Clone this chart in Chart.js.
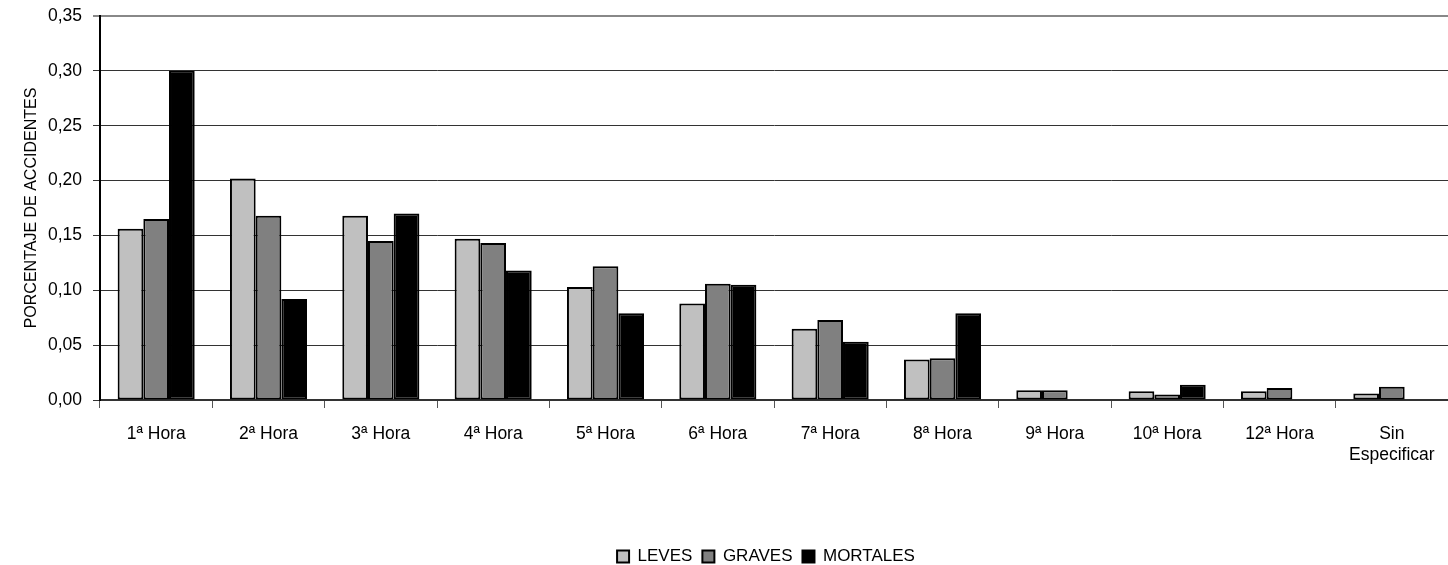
<!DOCTYPE html>
<html>
<head>
<meta charset="utf-8">
<script src="https://cdn.jsdelivr.net/npm/chart.js@4"></script>
<style>
html,body{margin:0;padding:0;background:#fff;}
#wrap{width:1448px;height:565px;position:relative;}
</style>
</head>
<body>
<div id="wrap"><canvas id="c" width="1448" height="565"></canvas></div>
<script>
const categories = ["1ª Hora","2ª Hora","3ª Hora","4ª Hora","5ª Hora","6ª Hora","7ª Hora","8ª Hora","9ª Hora","10ª Hora","12ª Hora",["Sin","Especificar"]];
const leves    = [0.156,0.202,0.168,0.147,0.103,0.088,0.065,0.037,0.009,0.008,0.008,0.006];
const graves   = [0.165,0.168,0.145,0.143,0.122,0.106,0.073,0.038,0.009,0.005,0.011,0.012];
const mortales = [0.300,0.092,0.170,0.118,0.079,0.105,0.053,0.079,null,0.014,null,null];
const seriesNames = ["LEVES","GRAVES","MORTALES"];
const yTicks = [0,0.05,0.10,0.15,0.20,0.25,0.30,0.35];

const FONT = "'Liberation Sans',Arial,sans-serif";
Chart.defaults.font.family = FONT;
Chart.defaults.color = '#000';

const mk = (label, data, color) => ({
  label, data, backgroundColor: color, borderColor: '#000', borderWidth: 2,
  categoryPercentage: 0.686, barPercentage: 1.0, borderSkipped: false
});

const LEGEND_SHIFT_Y = 10;
const LEGEND_SHIFT_X = 42;
const legendShift = {
  id: 'legendShift',
  afterLayout(chart) {
    const l = chart.legend;
    if (l) {
      l.top += LEGEND_SHIFT_Y; l.bottom += LEGEND_SHIFT_Y;
      l.left += LEGEND_SHIFT_X; l.right += LEGEND_SHIFT_X;
    }
  }
};

new Chart(document.getElementById('c'), {
  type: 'bar',
  data: {
    labels: categories,
    datasets: [
      mk(seriesNames[0], leves, '#C0C0C0'),
      mk(seriesNames[1], graves, '#808080'),
      mk(seriesNames[2], mortales, '#000000')
    ]
  },
  plugins: [legendShift],
  options: {
    responsive: false,
    animation: false,
    layout: { padding: { top: 16, right: 0, bottom: 0, left: 0 } },
    plugins: {
      tooltip: { enabled: false },
      legend: {
        position: 'bottom',
        labels: {
          font: { size: 17, family: FONT },
          color: '#000',
          boxWidth: 12, boxHeight: 12,
          padding: 10,
          generateLabels(chart) {
            return chart.data.datasets.map((ds, i) => ({
              text: ds.label, fillStyle: ds.backgroundColor, strokeStyle: '#000',
              lineWidth: 2, hidden: false, datasetIndex: i, fontColor: '#000'
            }));
          }
        }
      }
    },
    scales: {
      x: {
        grid: { offset: true, drawOnChartArea: false, drawTicks: true, tickLength: 8, color: '#555', lineWidth: 1 },
        border: { display: true, color: '#333', width: 2 },
        ticks: { font: { size: 17.5, family: FONT }, color: '#000', padding: 16, maxRotation: 0, autoSkip: false },
        afterFit(axis) { axis.height = 128; axis.paddingLeft = 0; axis.paddingRight = 0; }
      },
      y: {
        min: 0, max: 0.35,
        afterBuildTicks(axis) { axis.ticks = yTicks.map(v => ({ value: v })); },
        grid: { color: (ctx) => ctx.tick && ctx.tick.value === 0.35 ? '#888' : '#333', lineWidth: (ctx) => ctx.tick && ctx.tick.value === 0.35 ? 2 : 1, drawTicks: true, tickLength: 7 },
        border: { display: true, color: '#000', width: 2 },
        ticks: {
          font: { size: 17.5, family: FONT, lineHeight: 0.8 }, color: '#000', padding: 11,
          callback: (v) => Number(v).toFixed(2).replace('.', ',')
        },
        title: { display: true, text: 'PORCENTAJE DE ACCIDENTES', font: { size: 16, family: FONT }, color: '#000', padding: { top: 22, bottom: 0 } },
        afterFit(axis) { axis.width = 100; axis.paddingTop = 0; axis.paddingBottom = 0; }
      }
    }
  }
});
</script>
</body>
</html>
